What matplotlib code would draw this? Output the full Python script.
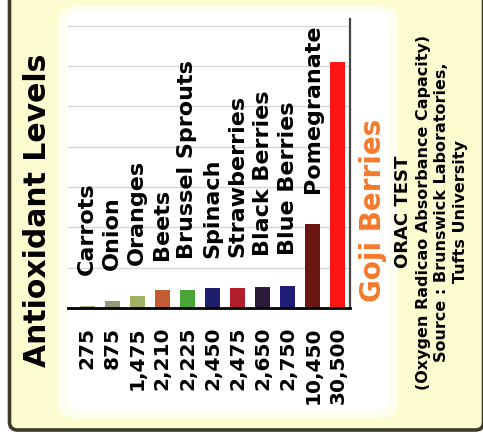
import numpy as np
import matplotlib
matplotlib.use("Agg")
import matplotlib.pyplot as plt
from matplotlib.patches import FancyBboxPatch

# data
foods = ["Carrots", "Onion", "Oranges", "Beets", "Brussel Sprouts", "Spinach",
         "Strawberries", "Black Berries", "Blue Berries", "Pomegranate", "Goji Berries"]
orac = np.array([275, 875, 1475, 2210, 2225, 2450, 2475, 2650, 2750, 10450, 30500])
value_labels = ["275", "875", "1,475", "2,210", "2,225", "2,450", "2,475",
                "2,650", "2,750", "10,450", "30,500"]
bar_colors = ["#a3ab76", "#929d74", "#a0b262", "#c25c32", "#4aa537", "#1e1e6c",
              "#b01e2c", "#2b1a3a", "#1f1f7a", "#6b1612", "#ff1414"]
title = "Antioxidant Levels"
note_lines = ["ORAC TEST", "(Oxygen Radicao Absorbance Capacity)",
              "Source : Brunswick Laboratories,", "Tufts University"]

W, H = 483, 440
fig = plt.figure(figsize=(W / 100, H / 100), dpi=100, facecolor="white")

# background panels, drawn in pixel coordinates
bg = fig.add_axes([0, 0, 1, 1], zorder=0)
bg.set_xlim(0, W)
bg.set_ylim(H, 0)
bg.axis("off")
bg.add_patch(FancyBboxPatch((9.5, -30), 474, 460, boxstyle="round,pad=0,rounding_size=8",
                            facecolor="#fdfbd0", edgecolor="#3d3b2c", lw=2.6))
bg.add_patch(FancyBboxPatch((58, 6), 340, 412, boxstyle="round,pad=0,rounding_size=18",
                            facecolor="#fefef0", edgecolor="none"))
bg.add_patch(FancyBboxPatch((66, 12), 324, 398, boxstyle="round,pad=0,rounding_size=14",
                            facecolor="white", edgecolor="none"))

# chart
ax = fig.add_axes([68 / W, (H - 308) / H, (350 - 68) / W, (308 - 19) / H], zorder=1)
ax.set_facecolor("none")
x = np.arange(len(foods))
ax.bar(x, orac, width=0.6, color=bar_colors, zorder=2)
ax.set_xlim(-0.76, 10.48)
ax.set_ylim(0, 35850)
ax.set_yticks(np.arange(5000, 35001, 5000))
ax.yaxis.grid(True, color="#d8d8d8", lw=1)
ax.set_axisbelow(True)
ax.tick_params(left=False, bottom=False, right=False, labelleft=False, labelbottom=False)
for s in ["top", "left"]:
    ax.spines[s].set_visible(False)
ax.spines["bottom"].set_color("black")
ax.spines["bottom"].set_linewidth(2)
ax.spines["right"].set_color("#444444")
ax.spines["right"].set_linewidth(1.6)

# names above the bars (all but Goji)
label_y = np.maximum(orac + 3800, 4100)
for i in range(len(foods) - 1):
    ax.text(x[i], label_y[i], foods[i], rotation=90, ha="center", va="bottom",
            fontsize=16, fontweight="bold", color="black")

# values under the baseline
for i in range(len(foods)):
    ax.annotate(value_labels[i], (x[i], 0), xytext=(0, -13.5), textcoords="offset points",
                rotation=90, ha="center", va="top", fontsize=14.5, fontweight="bold",
                annotation_clip=False)

fig.text(38 / W, 1 - 210 / H, title, rotation=90, ha="center", va="center",
         fontsize=21.5, fontweight="bold", color="black")
fig.text(373 / W, 1 - 210 / H, foods[-1], rotation=90, ha="center", va="center",
         fontsize=20, fontweight="bold", color="#f47a2c")

note_x = [403, 423.5, 442, 460.5]
note_size = [13, 11.5, 11.5, 11.5]
for i, line in enumerate(note_lines):
    fig.text(note_x[i] / W, 1 - 212 / H, line, rotation=90, ha="center", va="center",
             fontsize=note_size[i], fontweight="bold", color="black")

fig.savefig("out.png", dpi=100, facecolor="white")
